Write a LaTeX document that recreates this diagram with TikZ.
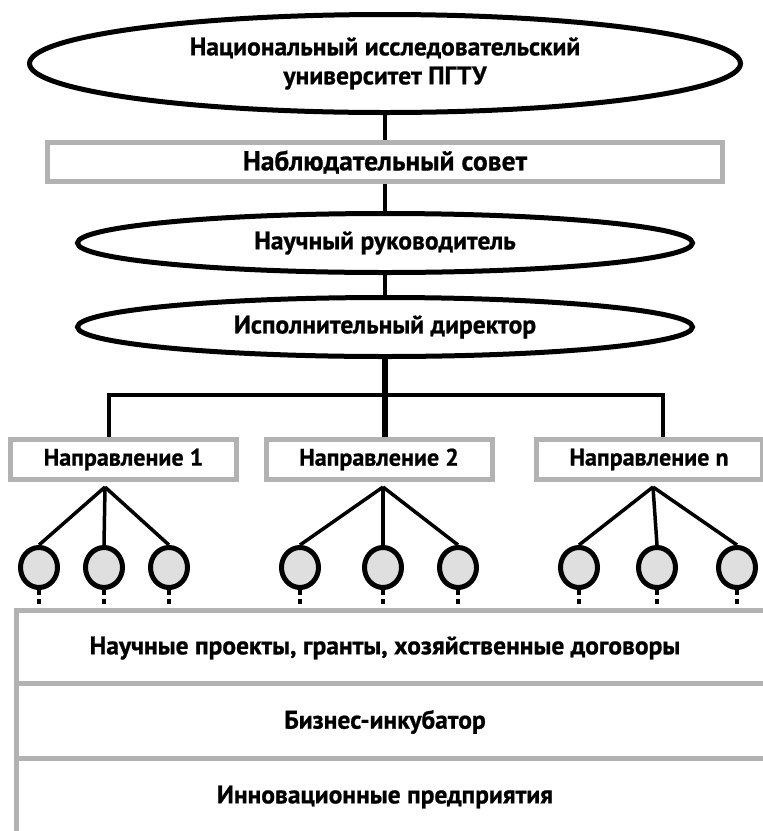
\documentclass[tikz,border=0pt]{standalone}
\usepackage{fontspec}
\setmainfont{PT Sans}[BoldFeatures={FakeBold=0.8}]
\usetikzlibrary{shapes,positioning}

\begin{document}
\begin{tikzpicture}[
    x=1pt, y=-1pt,
    font=\bfseries,
    oval/.style={ellipse, draw, line width=5pt, inner sep=0pt, align=center, font=\bfseries\fontsize{25.5}{29}\selectfont},
    panel/.style={rectangle, draw=gray!60, line width=5pt, inner sep=0pt},
    dot/.style={ellipse, draw, line width=5pt, fill=gray!25, minimum width=37pt, minimum height=40pt, inner sep=0pt},
    label/.style={font=\bfseries\fontsize{24}{28}\selectfont},
    rowtext/.style={font=\bfseries\fontsize{25.5}{29}\selectfont},
    link/.style={line width=3.5pt},
    trunk/.style={line width=5.5pt},
    tick/.style={line width=3.5pt, dash pattern=on 5pt off 4pt}
]
\path[use as bounding box, clip] (0,0) rectangle (763,831);

% University and management
\node[oval, minimum width=711pt, minimum height=98pt] (nr) at (385,63.5) {Национальный исследовательский\\университет ПГТУ};
\node[panel, minimum width=675pt, minimum height=39pt, font=\bfseries\fontsize{27.5}{31}\selectfont] (sovet) at (385,162) {Наблюдательный совет};
\node[oval, minimum width=615pt, minimum height=59pt] (ruk) at (385,243) {Научный руководитель};
\node[oval, minimum width=615pt, minimum height=59pt] (dir) at (385,327) {Исполнительный директор};

% Directions
\node[panel, label, minimum width=226pt, minimum height=40pt] (n1) at (123.5,459.5) {Направление 1};
\node[panel, label, minimum width=226pt, minimum height=40pt] (n2) at (379,459.5) {Направление 2};
\node[panel, label, minimum width=226pt, minimum height=40pt] (n3) at (649,459.5) {Направление n};

% Activity rows
\node[panel, minimum width=764pt, minimum height=73pt] (row1) at (398.5,646.5) {};
\node[panel, minimum width=764pt, minimum height=75pt] (row2) at (398.5,720.5) {};
\node[panel, minimum width=764pt, minimum height=90pt] (row3) at (398.5,803) {};
\node[rowtext] (t1) at (385,648) {Научные проекты, гранты, хозяйственные договоры};
\node[rowtext] (t2) at (385,722) {Бизнес-инкубатор};
\node[rowtext] (t3) at (385,797) {Инновационные предприятия};

% Trunk
\draw[link] (nr) -- (sovet);
\draw[link] (sovet) -- (ruk);
\draw[link] (ruk) -- (dir);
\coordinate (busL) at (109,395);
\coordinate (busR) at (663,395);
\draw[trunk] (dir.south) -- (dir.south |- n2.north);
\draw[link] (busL |- n1.north) -- (busL) -- (busR) -- (busR |- n3.north);

% Groups
\coordinate (f1) at (105,487);
\coordinate (f2) at (383,487);
\coordinate (f3) at (653,487);
\draw[link] (f1) -- (39,545);
\draw[link] (f1) -- (104,545);
\draw[link] (f1) -- (169,545);
\draw[link] (f2) -- (300,545);
\draw[link] (f2) -- (383,545);
\draw[link] (f2) -- (458,545);
\draw[link] (f3) -- (579,545);
\draw[link] (f3) -- (657,545);
\draw[link] (f3) -- (737,545);
\node[dot] (c11) at (39,567.5) {};
\node[dot] (c12) at (104,567.5) {};
\node[dot] (c13) at (169,567.5) {};
\node[dot] (c21) at (300,567.5) {};
\node[dot] (c22) at (383,567.5) {};
\node[dot] (c23) at (458,567.5) {};
\node[dot] (c31) at (579,567.5) {};
\node[dot] (c32) at (657,567.5) {};
\node[dot] (c33) at (737,567.5) {};

% Links to rows
\draw[tick] (c11.south) -- (c11 |- row1.north);
\draw[tick] (c12.south) -- (c12 |- row1.north);
\draw[tick] (c13.south) -- (c13 |- row1.north);
\draw[tick] (c21.south) -- (c21 |- row1.north);
\draw[tick] (c22.south) -- (c22 |- row1.north);
\draw[tick] (c23.south) -- (c23 |- row1.north);
\draw[tick] (c31.south) -- (c31 |- row1.north);
\draw[tick] (c32.south) -- (c32 |- row1.north);
\draw[tick] (c33.south) -- (c33 |- row1.north);

\end{tikzpicture}
\end{document}
